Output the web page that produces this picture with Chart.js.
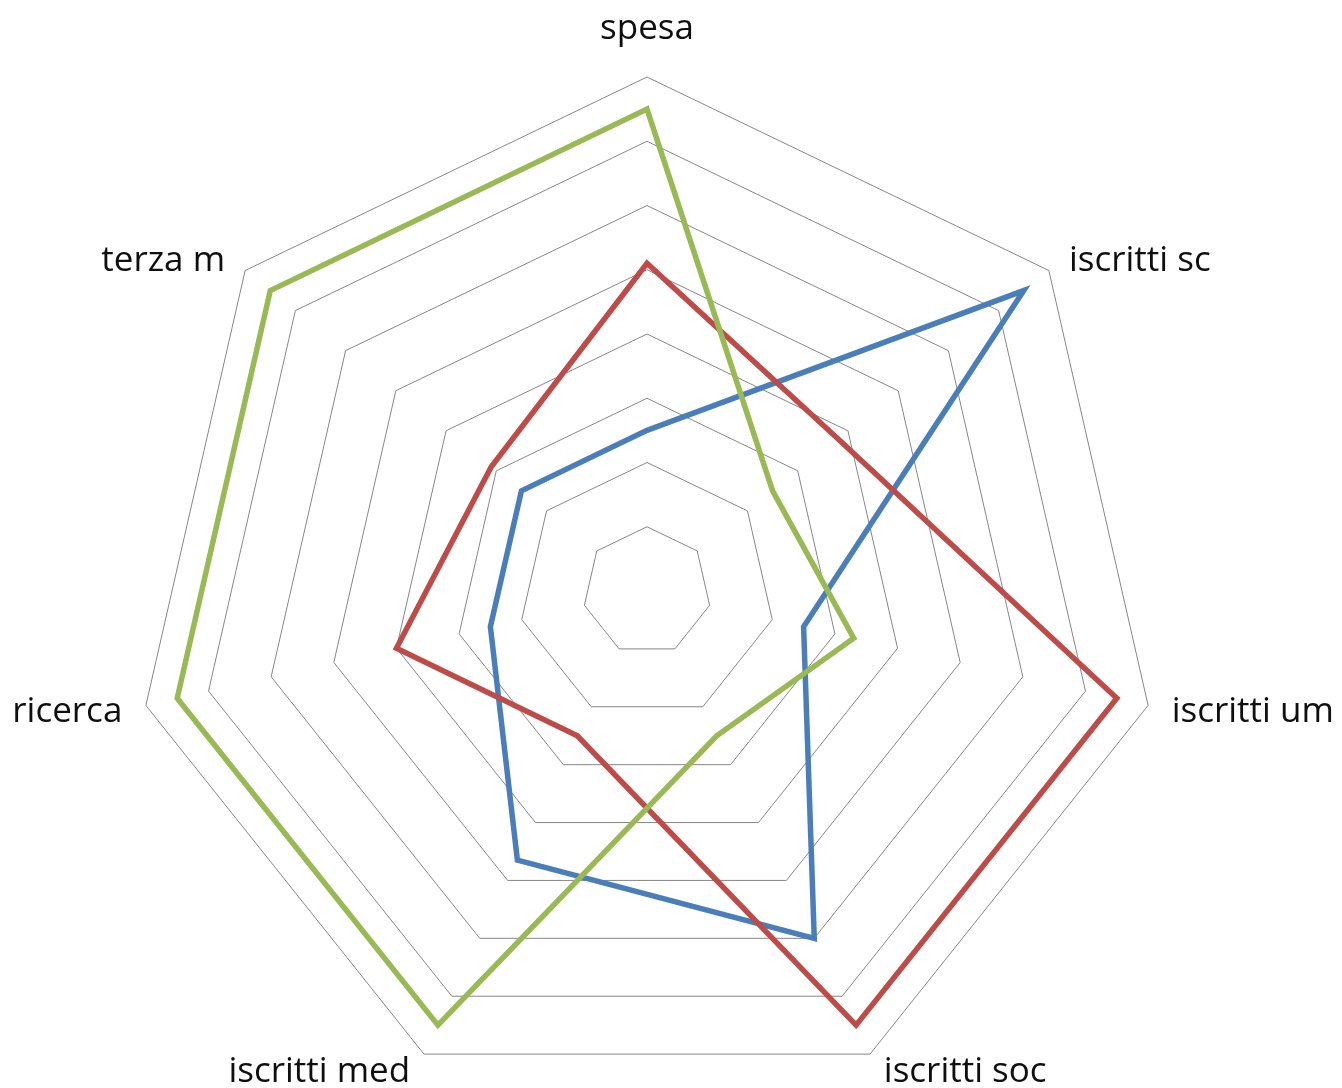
<!DOCTYPE html>
<html>
<head>
<meta charset="utf-8">
<script src="https://cdn.jsdelivr.net/npm/chart.js@4/dist/chart.umd.min.js"></script>
<style>
  html, body { margin: 0; padding: 0; background: #fff; overflow: hidden; }
  canvas { display: block; }
</style>
</head>
<body>
<canvas id="radar" width="1342" height="1105"></canvas>
<script>
// Axes of the radar, clockwise from the top
const categories = ['spesa', 'iscritti sc', 'iscritti um', 'iscritti soc', 'iscritti med', 'ricerca', 'terza m'];

// Series values, one per axis
const serie1 = [2.5, 7.5, 2.5, 6.0, 4.65, 2.5, 2.5];
const serie2 = [5.1, 3.8, 7.5, 7.5, 2.5, 4.0, 3.1];
const serie3 = [7.5, 2.5, 3.3, 2.5, 7.5, 7.5, 7.5];

// Radial scale range (rings at every step)
const scaleMin = 0;
const scaleMax = 8;
const scaleStep = 1;

// Axis names drawn just outside each outer vertex
const axisLabels = {
  id: 'axisLabels',
  afterDraw(chart) {
    const r = chart.scales.r;
    const ctx = chart.ctx;
    ctx.save();
    ctx.font = '35px "Open Sans"';
    ctx.fillStyle = '#0f0f0f';
    ctx.textBaseline = 'alphabetic';
    categories.forEach((label, i) => {
      const p = r.getPointPosition(i, r.drawingArea);
      const ang = r.getIndexAngle(i) - Math.PI / 2;
      const c = Math.cos(ang), s = Math.sin(ang);
      let x = p.x, y = p.y, align = 'center';
      if (Math.abs(c) > 0.05) {
        align = c > 0 ? 'left' : 'right';
        x += Math.sign(c) * (6 + 18 * Math.abs(c));
      }
      if (s < -0.95) y -= 38;
      else if (s < 0) y += 0;
      else if (s < 0.5) y += 17;
      else y += 28;
      ctx.textAlign = align;
      ctx.fillText(label, x, y);
    });
    ctx.restore();
  }
};

const line = (label, data, color, order) => ({
  label, data, order,
  borderColor: color,
  backgroundColor: color,
  borderWidth: 5.5,
  borderJoinStyle: 'miter',
  fill: false,
  pointRadius: 0,
  pointHoverRadius: 0,
  tension: 0
});

new Chart(document.getElementById('radar'), {
  type: 'radar',
  data: {
    labels: categories,
    datasets: [
      line('Serie1', serie1, '#4a7ebb', 3),
      line('Serie2', serie2, '#be4b48', 2),
      line('Serie3', serie3, '#98b954', 1)
    ]
  },
  options: {
    responsive: false,
    animation: false,
    devicePixelRatio: 1,
    layout: { padding: { left: 133, right: 181, top: 77, bottom: 0 } },
    plugins: { legend: { display: false }, tooltip: { enabled: false } },
    scales: {
      r: {
        min: scaleMin,
        max: scaleMax,
        ticks: { display: false, stepSize: scaleStep },
        grid: { color: '#868686', lineWidth: 1, circular: false },
        angleLines: { display: false },
        pointLabels: { display: false }
      }
    }
  },
  plugins: [axisLabels]
});
</script>
</body>
</html>
